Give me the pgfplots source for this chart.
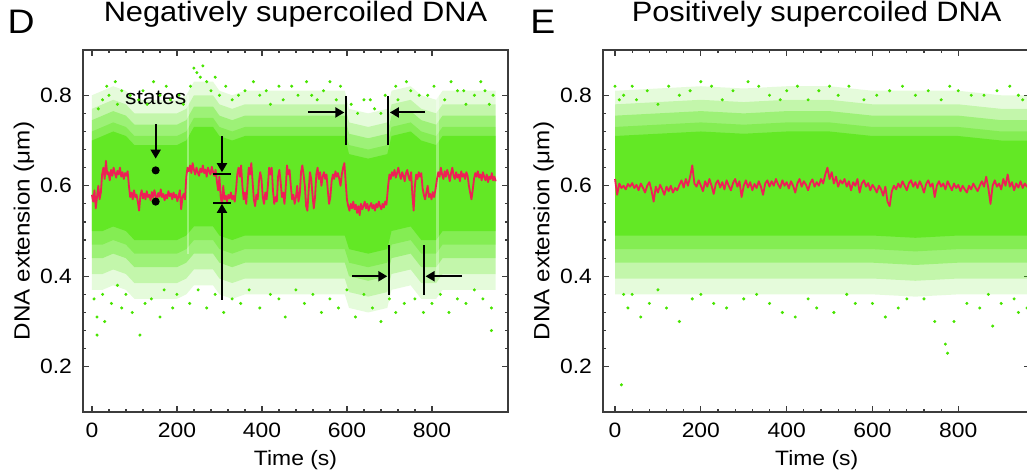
\documentclass[border=0pt]{standalone}
\usepackage{pgfplots}
\usepackage{pgfplotstable}
\pgfplotsset{compat=1.18}
\usepgfplotslibrary{fillbetween}
\usepackage{fontspec}
\setmainfont{Liberation Sans}[FakeStretch=1.1]
\usetikzlibrary{arrows.meta}
\definecolor{cgreen}{RGB}{72,228,0}
\definecolor{cred}{RGB}{238,32,85}
\definecolor{cframe}{RGB}{60,60,60}
\tikzset{
  ann/.style={black, line width=1pt},
  arr/.style={black, line width=1pt, -{Triangle[length=4.5pt,width=5pt]}},
}
% envelope of the dense part of the green cloud: x, upper, lower
\pgfplotstableread{
x up lo
0 0.70 0.50
25 0.71 0.50
50 0.72 0.51
80 0.71 0.50
100 0.69 0.48
150 0.69 0.48
200 0.69 0.48
222 0.70 0.49
240 0.73 0.51
285 0.73 0.51
300 0.71 0.49
330 0.70 0.48
360 0.71 0.49
450 0.71 0.49
500 0.71 0.49
550 0.71 0.49
595 0.71 0.49
605 0.67 0.46
650 0.66 0.45
695 0.67 0.46
705 0.71 0.50
750 0.72 0.51
775 0.70 0.48
810 0.69 0.48
825 0.71 0.50
900 0.71 0.50
950 0.71 0.50
}\envD
\pgfplotstableread{
x up lo
0 0.71 0.49
100 0.715 0.49
200 0.72 0.49
300 0.715 0.49
400 0.72 0.49
500 0.72 0.49
600 0.71 0.49
700 0.71 0.485
800 0.71 0.49
900 0.70 0.49
980 0.70 0.49
}\envE
\pgfplotsset{
  panel/.style={
    scale only axis, height=181pt,
    ymin=0.1, ymax=0.9,
    xtick={0,200,400,600,800},
    ytick={0.2,0.4,0.6,0.8},
    minor x tick num=4, minor y tick num=4,
    tick align=inside,
    major tick length=3pt, minor tick length=1.6pt,
    every tick/.style={cframe, line width=0.6pt},
    axis line style={cframe, line width=0.9pt},
    tick label style={font=\fontsize{10.4}{12}\selectfont},
    /pgf/number format/assume math mode=true,
    yticklabel style={/pgf/number format/fixed, /pgf/number format/fixed zerofill, /pgf/number format/precision=1, xshift=-2pt},
    xticklabel style={yshift=-2pt},
    xlabel={Time (s)},
    ylabel={DNA extension (μm)},
    xlabel style={font=\fontsize{10.4}{12}\selectfont, at={(axis description cs:0.5,-0.1464)}, anchor=base},
    ylabel style={font=\fontsize{11}{13}\selectfont, at={(axis description cs:-0.1388,0.5)}, anchor=center},
    title style={font=\fontsize{14}{16}\selectfont, at={(axis description cs:0.5,1.047)}, anchor=base},
  },
  env/.style={draw=none, forget plot},
  lay1/.style={fill=cgreen, fill opacity=0.14, draw=none},
  lay2/.style={fill=cgreen, fill opacity=0.22, draw=none},
  lay/.style={fill=cgreen, fill opacity=0.3, draw=none},
  core/.style={fill=cgreen, fill opacity=0.55, draw=none},
  dots/.style={only marks, mark=*, mark size=0.55pt, cgreen, mark options={draw=none, fill=cgreen}},
  trace/.style={cred, line width=0.9pt, line join=round},
}
\begin{document}
\begin{tikzpicture}
% ---------------- Panel D ----------------
\begin{axis}[panel, at={(41.5pt,-206pt)}, anchor=south west, width=212.5pt,
  xmin=-21, xmax=979, title={Negatively supercoiled DNA}]
\addplot[env, name path=du1] table[x=x, y expr=\thisrow{up}+0.10] {\envD};
\addplot[env, name path=dl1] table[x=x, y expr=\thisrow{lo}-0.13] {\envD};
\addplot[lay1] fill between[of=du1 and dl1];
\addplot[env, name path=du2] table[x=x, y expr=\thisrow{up}+0.07] {\envD};
\addplot[env, name path=dl2] table[x=x, y expr=\thisrow{lo}-0.095] {\envD};
\addplot[lay2] fill between[of=du2 and dl2];
\addplot[env, name path=du3] table[x=x, y expr=\thisrow{up}+0.045] {\envD};
\addplot[env, name path=dl3] table[x=x, y expr=\thisrow{lo}-0.06] {\envD};
\addplot[lay] fill between[of=du3 and dl3];
\addplot[env, name path=du4] table[x=x, y expr=\thisrow{up}+0.02] {\envD};
\addplot[env, name path=dl4] table[x=x, y expr=\thisrow{lo}-0.03] {\envD};
\addplot[lay] fill between[of=du4 and dl4];
\addplot[env, name path=du5] table[x=x, y=up] {\envD};
\addplot[env, name path=dl5] table[x=x, y=lo] {\envD};
\addplot[core] fill between[of=du5 and dl5];
% thin drop-out stripes in the cloud
\addplot[fill=white, fill opacity=0.35, draw=none] coordinates {(223,0.45)(229,0.45)(229,0.80)(223,0.80)} -- cycle;
\addplot[fill=white, fill opacity=0.35, draw=none] coordinates {(809,0.40)(817,0.40)(817,0.84)(809,0.84)} -- cycle;
\addplot[dots] coordinates {(25,0.79)(40,0.80)(60,0.78)(70,0.81)(110,0.79)(130,0.78)(160,0.80)(185,0.79)(232,0.82)(247,0.85)(261,0.865)(270,0.83)(280,0.81)(300,0.80)(330,0.79)(360,0.81)(395,0.80)(420,0.78)(450,0.79)(470,0.82)(517,0.80)(545,0.81)(575,0.79)(610,0.78)(640,0.79)(665,0.77)(690,0.80)(720,0.79)(750,0.81)(790,0.80)(830,0.79)(860,0.81)(900,0.80)(944,0.80)(935,0.78)(880,0.78)
(15,0.77)(35,0.82)(55,0.83)(90,0.80)(120,0.81)(145,0.83)(175,0.82)(205,0.80)(215,0.78)(255,0.84)(240,0.86)(290,0.84)(315,0.82)(345,0.80)(380,0.83)(410,0.81)(440,0.82)(485,0.80)(505,0.83)(530,0.79)(560,0.83)(585,0.82)(625,0.76)(655,0.79)(680,0.76)(715,0.82)(740,0.83)(770,0.80)(805,0.82)(845,0.83)(875,0.81)(915,0.83)(925,0.81)
(12,0.31)(12,0.27)(46,0.34)(113,0.27)(80,0.36)(140,0.35)(170,0.37)(200,0.36)(250,0.37)(290,0.36)(330,0.35)(370,0.37)(420,0.36)(455,0.31)(480,0.37)(520,0.36)(560,0.35)(600,0.37)(640,0.36)(660,0.33)(700,0.35)(735,0.34)(780,0.32)(820,0.36)(860,0.35)(900,0.37)(940,0.33)(940,0.28)(25,0.36)(60,0.38)
(5,0.35)(30,0.30)(70,0.33)(95,0.32)(125,0.34)(160,0.31)(190,0.33)(230,0.34)(270,0.33)(310,0.32)(350,0.34)(395,0.33)(440,0.35)(500,0.34)(540,0.32)(580,0.33)(620,0.31)(680,0.30)(715,0.32)(760,0.35)(800,0.34)(840,0.32)(880,0.34)(920,0.35)};
\addplot[trace] coordinates {
(0,0.580)(3,0.565)(6,0.590)(9,0.550)(12,0.575)(15,0.600)(18,0.570)(21,0.585)
(24,0.625)(27,0.640)(30,0.615)(33,0.655)(36,0.625)(39,0.630)(42,0.612)(45,0.635)(48,0.622)(51,0.640)(54,0.628)(57,0.618)(60,0.633)(63,0.625)(66,0.640)(69,0.620)(72,0.630)(75,0.615)(78,0.628)(81,0.622)(84,0.632)
(87,0.600)(90,0.575)(93,0.585)(96,0.570)(99,0.590)(102,0.575)(105,0.580)(108,0.565)(111,0.545)(114,0.578)(117,0.590)(120,0.572)(123,0.583)(126,0.570)(129,0.588)(132,0.575)(135,0.580)(138,0.568)(141,0.586)(144,0.574)(147,0.590)(150,0.578)(153,0.570)(156,0.584)(159,0.576)(162,0.592)(165,0.575)(168,0.582)(171,0.568)(174,0.580)(177,0.572)(180,0.588)(183,0.577)(186,0.583)(189,0.570)(192,0.585)(195,0.574)(198,0.580)(201,0.566)(204,0.578)(207,0.590)(210,0.548)(213,0.575)(216,0.582)(219,0.570)
(222,0.620)(225,0.640)(228,0.632)(231,0.645)(234,0.628)(237,0.650)(240,0.635)(243,0.625)(246,0.640)(249,0.630)(252,0.622)(255,0.638)(258,0.630)(261,0.645)(264,0.628)(267,0.636)(270,0.620)(273,0.640)(276,0.632)(279,0.625)(282,0.642)(285,0.630)(288,0.622)(291,0.635)
(294,0.610)(297,0.590)(300,0.620)(303,0.575)(306,0.560)(309,0.600)(312,0.570)(315,0.578)(318,0.565)(321,0.580)(324,0.572)(327,0.585)(330,0.570)(333,0.578)(336,0.565)
(339,0.590)(342,0.625)(345,0.640)(348,0.620)(351,0.645)(354,0.600)(357,0.570)(360,0.585)(363,0.560)(366,0.600)(369,0.640)(372,0.625)(375,0.650)(378,0.610)(381,0.570)(384,0.555)(387,0.580)(390,0.570)(393,0.610)(396,0.630)(399,0.615)(402,0.575)(405,0.560)(408,0.585)(411,0.570)(414,0.600)(417,0.640)(420,0.625)(423,0.640)(426,0.590)(429,0.560)(432,0.575)(435,0.565)(438,0.620)(441,0.635)(444,0.610)(447,0.575)(450,0.585)(453,0.560)(456,0.595)(459,0.645)(462,0.625)(465,0.635)(468,0.600)(471,0.570)(474,0.580)(477,0.560)(480,0.575)(483,0.600)(486,0.565)(489,0.580)(492,0.630)(495,0.645)(498,0.625)(501,0.600)(504,0.555)(507,0.545)(510,0.590)(513,0.630)(516,0.615)(519,0.580)(522,0.550)(525,0.575)(528,0.625)(531,0.640)(534,0.615)(537,0.630)(540,0.600)(543,0.620)(546,0.630)(549,0.615)(552,0.625)(555,0.590)(558,0.560)(561,0.575)(564,0.610)(567,0.625)(570,0.615)(573,0.632)(576,0.620)(579,0.628)(582,0.615)(585,0.600)(588,0.625)(591,0.640)(594,0.650)(597,0.610)
(600,0.570)(603,0.555)(606,0.545)(609,0.560)(612,0.550)(615,0.565)(618,0.548)(621,0.558)(624,0.540)(627,0.555)(630,0.535)(633,0.560)(636,0.548)(639,0.555)(642,0.565)(645,0.550)(648,0.560)(651,0.545)(654,0.555)(657,0.562)(660,0.550)(663,0.558)(666,0.545)(669,0.560)(672,0.552)(675,0.565)(678,0.555)(681,0.548)(684,0.560)(687,0.552)(690,0.565)(693,0.558)
(697,0.600)(700,0.625)(703,0.615)(706,0.630)(709,0.622)(712,0.635)(715,0.618)(718,0.628)(721,0.640)(724,0.625)(727,0.615)(730,0.630)(733,0.622)(736,0.610)(739,0.628)(742,0.635)(745,0.620)(748,0.612)(751,0.630)(754,0.580)(757,0.545)(760,0.600)(763,0.625)(766,0.615)(769,0.630)(772,0.620)(775,0.628)
(778,0.595)(781,0.580)(784,0.570)(787,0.585)(790,0.600)(793,0.575)(796,0.582)(799,0.570)(802,0.586)(805,0.575)(808,0.590)
(812,0.615)(815,0.630)(818,0.620)(821,0.640)(824,0.625)(827,0.615)(830,0.632)(833,0.620)(836,0.635)(839,0.625)(842,0.610)(845,0.628)(848,0.640)(851,0.622)(854,0.615)(857,0.630)(860,0.618)(863,0.625)(866,0.610)(869,0.632)(872,0.620)(875,0.626)(878,0.615)(881,0.630)(884,0.622)(887,0.600)(890,0.585)(893,0.570)(896,0.590)(899,0.615)(902,0.628)(905,0.620)(908,0.632)(911,0.618)(914,0.625)(917,0.612)(920,0.630)(923,0.620)(926,0.612)(929,0.625)(932,0.608)(935,0.620)(938,0.615)(941,0.628)(944,0.612)(947,0.620)(950,0.610)};
% annotations
\addplot[only marks, mark=*, mark size=1.8pt, black] coordinates {(150,0.634)(150,0.565)};
\node[anchor=base, font=\fontsize{10.4}{12}\selectfont, inner sep=0pt] at (axis cs:150,0.780) {states};
\draw[arr] (axis cs:150,0.736) -- (axis cs:150,0.660);
\draw[arr] (axis cs:306,0.709) -- (axis cs:306,0.630);
\draw[ann] (axis cs:285,0.627) -- (axis cs:327,0.627);
\draw[ann] (axis cs:285,0.563) -- (axis cs:327,0.563);
\draw[arr] (axis cs:306,0.348) -- (axis cs:306,0.560);
\draw[arr] (axis cs:508,0.762) -- (axis cs:594,0.762);
\draw[ann] (axis cs:598,0.691) -- (axis cs:598,0.798);
\draw[ann] (axis cs:697,0.691) -- (axis cs:697,0.798);
\draw[arr] (axis cs:784,0.762) -- (axis cs:701,0.762);
\draw[arr] (axis cs:612,0.400) -- (axis cs:695,0.400);
\draw[ann] (axis cs:699,0.359) -- (axis cs:699,0.468);
\draw[ann] (axis cs:781,0.359) -- (axis cs:781,0.468);
\draw[arr] (axis cs:871,0.400) -- (axis cs:785,0.400);
\end{axis}
% ---------------- Panel E ----------------
\begin{axis}[panel, at={(301.5pt,-206pt)}, anchor=south west, width=213.7pt,
  xmin=-28, xmax=968, title={Positively supercoiled DNA}]
\addplot[env, name path=eu1] table[x=x, y expr=\thisrow{up}+0.10] {\envE};
\addplot[env, name path=el1] table[x=x, y expr=\thisrow{lo}-0.13] {\envE};
\addplot[lay1] fill between[of=eu1 and el1];
\addplot[env, name path=eu2] table[x=x, y expr=\thisrow{up}+0.07] {\envE};
\addplot[env, name path=el2] table[x=x, y expr=\thisrow{lo}-0.095] {\envE};
\addplot[lay2] fill between[of=eu2 and el2];
\addplot[env, name path=eu3] table[x=x, y expr=\thisrow{up}+0.045] {\envE};
\addplot[env, name path=el3] table[x=x, y expr=\thisrow{lo}-0.06] {\envE};
\addplot[lay] fill between[of=eu3 and el3];
\addplot[env, name path=eu4] table[x=x, y expr=\thisrow{up}+0.02] {\envE};
\addplot[env, name path=el4] table[x=x, y expr=\thisrow{lo}-0.03] {\envE};
\addplot[lay] fill between[of=eu4 and el4];
\addplot[env, name path=eu5] table[x=x, y=up] {\envE};
\addplot[env, name path=el5] table[x=x, y=lo] {\envE};
\addplot[core] fill between[of=eu5 and el5];
\addplot[dots] coordinates {(0,0.82)(20,0.80)(50,0.79)(100,0.78)(150,0.80)(200,0.83)(250,0.79)(310,0.83)(360,0.80)(400,0.81)(450,0.79)(500,0.82)(520,0.80)(580,0.79)(640,0.81)(700,0.80)(760,0.79)(800,0.81)(860,0.80)(920,0.82)(950,0.79)
(10,0.79)(40,0.82)(75,0.81)(125,0.82)(175,0.81)(225,0.82)(275,0.81)(335,0.82)(385,0.79)(425,0.82)(475,0.81)(545,0.82)(610,0.80)(670,0.82)(730,0.81)(780,0.82)(830,0.80)(890,0.81)(940,0.80)
(15,0.16)(30,0.33)(60,0.31)(150,0.30)(230,0.34)(300,0.35)(390,0.32)(420,0.31)(470,0.33)(510,0.32)(560,0.34)(630,0.31)(680,0.35)(745,0.30)(770,0.25)(775,0.23)(790,0.30)(850,0.33)(900,0.34)(940,0.32)(880,0.29)(20,0.36)(100,0.37)(200,0.36)
(40,0.36)(80,0.34)(120,0.33)(180,0.35)(260,0.33)(330,0.36)(360,0.34)(450,0.35)(540,0.36)(600,0.34)(660,0.33)(720,0.35)(820,0.34)(870,0.36)(930,0.35)(960,0.33)};
\addplot[trace] coordinates {
(0,0.615)(5,0.580)(10,0.605)(15,0.595)(20,0.600)(25,0.592)(30,0.604)(35,0.598)(40,0.606)(45,0.595)(50,0.602)(55,0.590)(60,0.605)(65,0.596)(70,0.585)(75,0.600)(80,0.608)(85,0.590)(90,0.565)(95,0.598)(100,0.585)(105,0.602)(110,0.592)(115,0.580)(120,0.598)(125,0.588)(130,0.600)(135,0.585)(140,0.595)(145,0.590)(150,0.602)(155,0.612)(160,0.596)(165,0.615)(170,0.600)(175,0.620)(180,0.645)(185,0.605)(190,0.598)(195,0.612)(200,0.600)(205,0.588)(210,0.610)(215,0.598)(220,0.615)(225,0.600)(230,0.582)(235,0.605)(240,0.612)(245,0.596)(250,0.608)(255,0.592)(260,0.612)(265,0.600)(270,0.590)(275,0.606)(280,0.615)(285,0.598)(290,0.610)(295,0.575)(300,0.600)(305,0.612)(310,0.596)(315,0.608)(320,0.590)(325,0.604)(330,0.595)(335,0.610)(340,0.598)(345,0.580)(350,0.605)(355,0.612)(360,0.598)(365,0.610)(370,0.600)(375,0.615)(380,0.603)(385,0.595)(390,0.612)(395,0.600)(400,0.608)(405,0.594)(410,0.610)(415,0.600)(420,0.585)(425,0.605)(430,0.615)(435,0.598)(440,0.610)(445,0.602)(450,0.590)(455,0.606)(460,0.614)(465,0.598)(470,0.608)(475,0.600)(480,0.615)(485,0.605)(490,0.625)(495,0.640)(500,0.615)(505,0.630)(510,0.605)(515,0.620)(520,0.598)(525,0.612)(530,0.605)(535,0.615)(540,0.598)(545,0.610)(550,0.590)(555,0.608)(560,0.600)(565,0.615)(570,0.585)(575,0.605)(580,0.612)(585,0.598)(590,0.606)(595,0.590)(600,0.602)(605,0.595)(610,0.585)(615,0.600)(620,0.592)(625,0.578)(630,0.598)(635,0.565)(640,0.555)(645,0.588)(650,0.600)(655,0.592)(660,0.605)(665,0.596)(670,0.610)(675,0.600)(680,0.590)(685,0.606)(690,0.612)(695,0.598)(700,0.608)(705,0.595)(710,0.610)(715,0.600)(720,0.585)(725,0.604)(730,0.612)(735,0.598)(740,0.605)(745,0.575)(750,0.600)(755,0.610)(760,0.598)(765,0.605)(770,0.592)(775,0.610)(780,0.600)(785,0.590)(790,0.605)(795,0.595)(800,0.602)(805,0.588)(810,0.600)(815,0.592)(820,0.585)(825,0.600)(830,0.592)(835,0.605)(840,0.596)(845,0.588)(850,0.600)(855,0.610)(860,0.598)(865,0.620)(870,0.595)(875,0.560)(880,0.600)(885,0.612)(890,0.598)(895,0.605)(900,0.592)(905,0.615)(910,0.600)(915,0.625)(920,0.598)(925,0.608)(930,0.590)(935,0.605)(940,0.596)(945,0.610)(950,0.595)(955,0.605)(960,0.598)(965,0.602)};
\end{axis}
\node[anchor=base west, font=\fontsize{17}{20}\selectfont, inner sep=0pt] at (3.6pt,-16.5pt) {D};
\node[anchor=base west, font=\fontsize{17}{20}\selectfont, inner sep=0pt] at (265pt,-16.5pt) {E};
\pgfresetboundingbox
\path[use as bounding box] (0,0) rectangle (513.5pt,-236.5pt);
\end{tikzpicture}
\end{document}
